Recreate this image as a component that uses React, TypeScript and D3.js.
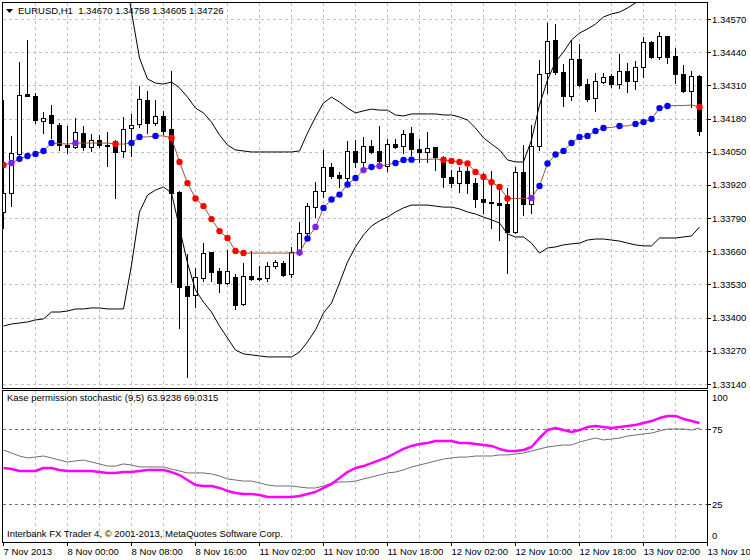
import React from "react";
import * as d3 from "d3";

// ---------- DATA (EURUSD H1) ----------
const opens = [
  1.33814, 1.33888, 1.34041, 1.34276, 1.34268, 1.3417, 1.34194, 1.34155, 1.34076, 1.34068,
  1.34123, 1.34068, 1.34096, 1.34076, 1.34092, 1.34053, 1.34143, 1.34159, 1.34253, 1.34163,
  1.3419, 1.34139, 1.33892, 1.33524, 1.33489, 1.33555, 1.33657, 1.33583, 1.33536, 1.33559,
  1.33453, 1.33563, 1.33555, 1.33555, 1.33602, 1.33614, 1.33571, 1.33653, 1.33732, 1.33833,
  1.33896, 1.3399, 1.33959, 1.33947, 1.34053, 1.3401, 1.34072, 1.34053, 1.33994, 1.3408,
  1.34072, 1.34123, 1.34061, 1.34049, 1.34068, 1.34029, 1.33951, 1.33927, 1.33974, 1.33927,
  1.33865, 1.33853, 1.33849, 1.33845, 1.33736, 1.33971, 1.33845, 1.34072, 1.34358, 1.34488,
  1.34362, 1.34268, 1.34413, 1.34315, 1.3426, 1.34323, 1.34347, 1.34315, 1.34366, 1.34327,
  1.34382, 1.3448, 1.34421, 1.34503, 1.34425, 1.34355, 1.34288, 1.34347,
];
const highs = [
  1.34253, 1.34112, 1.34402, 1.34488, 1.3428, 1.34206, 1.34233, 1.34163, 1.34151, 1.34182,
  1.34151, 1.34119, 1.34116, 1.34127, 1.34096, 1.34186, 1.34198, 1.34308, 1.34288, 1.34253,
  1.3421, 1.34366, 1.33896, 1.33649, 1.33594, 1.33692, 1.33657, 1.33594, 1.33665, 1.33571,
  1.33614, 1.33661, 1.33602, 1.33618, 1.33626, 1.33622, 1.33677, 1.33775, 1.33849, 1.33931,
  1.34057, 1.34006, 1.33971, 1.34092, 1.34096, 1.34108, 1.34096, 1.34151, 1.341, 1.341,
  1.34135, 1.34147, 1.341, 1.34127, 1.34068, 1.34033, 1.33978, 1.3399, 1.3399, 1.33947,
  1.33967, 1.33974, 1.33904, 1.33908, 1.3399, 1.34076, 1.34155, 1.34409, 1.34554, 1.3455,
  1.34394, 1.34488, 1.34472, 1.34335, 1.34358, 1.34358, 1.34355, 1.34433, 1.34398, 1.34406,
  1.345, 1.34484, 1.34519, 1.34503, 1.34456, 1.3439, 1.34366, 1.34351,
];
const lows = [
  1.33751, 1.33837, 1.34029, 1.34268, 1.34163, 1.34123, 1.34104, 1.34057, 1.34045, 1.34065,
  1.34057, 1.34053, 1.34068, 1.33994, 1.33869, 1.34029, 1.34033, 1.34147, 1.34123, 1.34155,
  1.34119, 1.3354, 1.33359, 1.33167, 1.33442, 1.33544, 1.33544, 1.335, 1.33532, 1.33434,
  1.3345, 1.33548, 1.33548, 1.33544, 1.33594, 1.33563, 1.33559, 1.33645, 1.33712, 1.33794,
  1.33873, 1.33947, 1.33912, 1.33912, 1.3399, 1.33986, 1.34045, 1.33986, 1.33974, 1.34065,
  1.34045, 1.34037, 1.3401, 1.3401, 1.33978, 1.33912, 1.33912, 1.33892, 1.33888, 1.33833,
  1.3381, 1.33751, 1.33704, 1.33575, 1.33732, 1.33802, 1.3381, 1.34057, 1.3428, 1.34355,
  1.34229, 1.34253, 1.34308, 1.34249, 1.3421, 1.34319, 1.34304, 1.343, 1.34284, 1.34296,
  1.34343, 1.34417, 1.34413, 1.34398, 1.34319, 1.34284, 1.34225, 1.34116,
];
const closes = [
  1.33888, 1.34045, 1.34272, 1.3427, 1.34174, 1.34182, 1.34163, 1.34076, 1.34067, 1.34127,
  1.34068, 1.34096, 1.34076, 1.34074, 1.34049, 1.34139, 1.34155, 1.34257, 1.34163, 1.3419,
  1.34131, 1.33888, 1.3352, 1.33485, 1.33559, 1.33653, 1.33579, 1.33536, 1.33583, 1.3345,
  1.33563, 1.33551, 1.33553, 1.33602, 1.33618, 1.33567, 1.33657, 1.33732, 1.33837, 1.33896,
  1.3399, 1.33955, 1.33947, 1.34053, 1.3401, 1.34072, 1.34049, 1.34014, 1.3408, 1.34068,
  1.34119, 1.34061, 1.34049, 1.34065, 1.34029, 1.33951, 1.33927, 1.33974, 1.33927, 1.33865,
  1.33855, 1.33851, 1.33841, 1.33736, 1.33971, 1.33845, 1.34072, 1.34355, 1.34484, 1.34362,
  1.34268, 1.34413, 1.34311, 1.34257, 1.34327, 1.34343, 1.34315, 1.34366, 1.34327, 1.34382,
  1.3448, 1.34421, 1.34503, 1.34421, 1.34355, 1.34288, 1.34347, 1.34131,
];
// channel (upper / middle / lower)
const upperBand = [
  1.35115, 1.35115, 1.35115, 1.35115, 1.35115, 1.35115, 1.35115, 1.35115, 1.35115, 1.35115,
  1.35115, 1.35115, 1.35115, 1.35115, 1.34997, 1.34801, 1.34597, 1.34417, 1.34335, 1.34319,
  1.34315, 1.34323, 1.343, 1.34264, 1.34221, 1.34202, 1.34166, 1.34116, 1.34076, 1.34057,
  1.34053, 1.34049, 1.34049, 1.34049, 1.34049, 1.34049, 1.34049, 1.34053, 1.34123, 1.34186,
  1.34241, 1.34264, 1.34245, 1.34221, 1.34202, 1.3421, 1.34217, 1.34213, 1.34213, 1.34194,
  1.3419, 1.34198, 1.34198, 1.34198, 1.34198, 1.34194, 1.34194, 1.34186, 1.34174, 1.34143,
  1.34104, 1.3408, 1.34057, 1.34018, 1.3401, 1.3401, 1.34096, 1.34233, 1.34331, 1.34402,
  1.34441, 1.34488, 1.34515, 1.34531, 1.3455, 1.34578, 1.3459, 1.34597, 1.34613, 1.34633,
  1.34656, 1.34676, 1.34691, 1.34707, 1.34719, 1.34731, 1.34742, 1.34754,
];
const midLine = [
  1.33998, 1.34006, 1.34022, 1.34033, 1.34041, 1.34053, 1.34084, 1.34082, 1.3408, 1.34084,
  1.34084, 1.34084, 1.34084, 1.34084, 1.3408, 1.3408, 1.34084, 1.34108, 1.34108, 1.34112,
  1.34112, 1.34104, 1.3401, 1.33927, 1.33867, 1.33837, 1.33786, 1.33739, 1.33712, 1.33661,
  1.33653, 1.33653, 1.33653, 1.33653, 1.33653, 1.33653, 1.33653, 1.33655, 1.3371, 1.33755,
  1.3383, 1.33863, 1.33882, 1.33922, 1.33947, 1.33978, 1.3399, 1.33994, 1.34, 1.34006,
  1.34018, 1.34019, 1.3402, 1.3402, 1.34022, 1.34018, 1.34014, 1.3401, 1.34004, 1.33971,
  1.33951, 1.33931, 1.33912, 1.33867, 1.33867, 1.33867, 1.33869, 1.33916, 1.34004, 1.34039,
  1.34053, 1.34084, 1.34108, 1.34112, 1.34131, 1.34143, 1.34145, 1.34151, 1.34151, 1.34159,
  1.34166, 1.34178, 1.34221, 1.34229, 1.34231, 1.34231, 1.34233, 1.34225,
];
// 1 = up signal, -1 = down signal, 2 = both, 0 = none
const midSignal = [
  -1, 2, 1, 1, 1, 1, 1, 0, 0, 2,
  0, 0, 0, 0, -1, 0, 1, 1, 0, 1,
  0, -1, -1, -1, -1, -1, -1, -1, -1, -1,
  -1, 0, 0, 0, 0, 0, 0, 2, 1, 2,
  1, 1, 1, 1, 1, 2, 1, 2, 0, 1,
  1, 1, 0, 0, 0, -1, -1, -1, -1, -1,
  -1, -1, -1, -1, 0, 0, 2, 1, 1, 1,
  1, 1, 1, 1, 1, 1, 0, 1, 0, 1,
  1, 1, 1, 1, 0, 0, 0, -1,
];
const lowerBand = [
  1.33367, 1.33375, 1.33379, 1.33383, 1.33391, 1.33395, 1.33422, 1.33422, 1.33426, 1.33434,
  1.33434, 1.33438, 1.33438, 1.33434, 1.33434, 1.33434, 1.33606, 1.33814, 1.3388, 1.339,
  1.33912, 1.33888, 1.33751, 1.33614, 1.33508, 1.33461, 1.33422, 1.33367, 1.3332, 1.33273,
  1.33258, 1.33254, 1.3325, 1.33246, 1.33246, 1.33246, 1.33246, 1.33265, 1.33305, 1.33352,
  1.33418, 1.33457, 1.33536, 1.33618, 1.33677, 1.33724, 1.33759, 1.33779, 1.33794, 1.33814,
  1.3383, 1.33841, 1.33841, 1.33841, 1.33837, 1.33833, 1.33833, 1.33826, 1.33814, 1.33806,
  1.33794, 1.33783, 1.33771, 1.33728, 1.33716, 1.33716, 1.33692, 1.33653, 1.33673, 1.33677,
  1.33685, 1.33689, 1.33692, 1.33704, 1.33708, 1.33708, 1.33704, 1.337, 1.33692, 1.33685,
  1.33681, 1.33681, 1.33712, 1.33712, 1.33712, 1.33716, 1.3372, 1.33755,
];
// Kase permission stochastic
const kpsMain = [
  49.0, 48.3, 47.0, 47.0, 47.0, 49.0, 49.0, 47.7, 47.0, 47.0,
  47.0, 47.0, 46.3, 45.7, 45.7, 46.3, 46.3, 47.0, 47.7, 47.7,
  47.7, 46.3, 44.3, 41.0, 37.7, 37.0, 37.0, 35.7, 33.7, 32.3,
  31.7, 31.7, 31.0, 29.7, 29.7, 29.7, 29.7, 30.3, 31.7, 33.0,
  35.7, 38.3, 42.3, 46.3, 49.0, 50.3, 52.3, 54.3, 56.3, 59.0,
  61.7, 63.7, 65.0, 65.7, 67.0, 67.0, 67.0, 65.7, 65.7, 65.0,
  64.3, 63.7, 61.7, 60.3, 60.3, 61.0, 63.0, 69.0, 74.3, 75.7,
  74.3, 73.0, 74.3, 76.3, 77.0, 76.3, 75.7, 76.3, 77.0, 77.7,
  79.0, 80.3, 82.3, 83.7, 83.7, 81.7, 80.3, 79.0,
];
const kpsSignal = [
  61.0, 59.0, 57.0, 55.7, 56.3, 57.0, 55.7, 54.3, 53.0, 53.7,
  54.3, 53.0, 51.7, 50.3, 50.3, 51.7, 51.0, 49.7, 49.7, 49.7,
  49.7, 48.3, 47.0, 45.7, 45.7, 45.7, 45.0, 43.7, 41.7, 41.0,
  40.3, 40.3, 39.0, 37.7, 37.0, 37.0, 37.0, 36.3, 35.7, 35.7,
  37.0, 39.0, 39.7, 39.7, 40.3, 41.7, 43.0, 44.3, 45.7, 46.3,
  47.7, 49.7, 51.0, 52.3, 53.7, 55.0, 55.7, 56.3, 56.3, 57.0,
  57.0, 57.0, 57.7, 57.7, 58.3, 59.0, 60.3, 61.7, 63.0, 63.7,
  64.3, 64.3, 66.3, 67.7, 69.0, 67.7, 68.3, 69.0, 70.3, 71.0,
  71.7, 72.3, 73.7, 75.0, 75.0, 75.0, 74.3, 75.7,
];
const priceTicks = [1.3457, 1.3444, 1.3431, 1.3418, 1.3405, 1.3392, 1.3379, 1.3366, 1.3353, 1.334, 1.3327, 1.3314];
const kpsTicks = [100, 75, 25, 0];
const kpsLevels = [75, 25];
const timeLabels = [
  "7 Nov 2013", "8 Nov 00:00", "8 Nov 08:00", "8 Nov 16:00", "11 Nov 02:00", "11 Nov 10:00",
  "11 Nov 18:00", "12 Nov 02:00", "12 Nov 10:00", "12 Nov 18:00", "13 Nov 02:00", "13 Nov 10",
];

const FONT = "'Liberation Sans', Arial, sans-serif";

export default function App() {
  const W = 750, H = 560;
  const L = 2, R = 707, MT = 2, MB = 388, ST = 390, SB = 542;
  const n = closes.length;
  const x = d3.scaleLinear().domain([0, n]).range([3, 3 + 8 * n]);
  const y = d3.scaleLinear().domain([1.3314, 1.3457]).range([384, 19]);
  const ys = d3.scaleLinear().domain([0, 100]).range([541.5, 391.5]);
  const idx = d3.range(n);
  const gridIdx = d3.range(4, n, 4);
  const labelIdx = d3.range(0, n + 1, 8);

  const priceLine = (arr: number[]) =>
    d3.line<number>().x((_, i) => x(i) + 0.5).y((v) => y(v))(arr) || "";
  const subLine = (arr: number[]) =>
    d3.line<number>().x((_, i) => x(i) + 0.5).y((v) => ys(v))(arr) || "";

  const dotColor: Record<string, string> = { "1": "#0000FF", "-1": "#FF0000", "2": "#7F1FE8" };

  return (
    <svg width={W} height={H} style={{ position: "absolute", left: 0, top: 0, background: "#fff" }}
      fontFamily={FONT} fontSize="9.5px">
      <defs>
        <clipPath id="mainClip"><rect x={L + 1} y={MT + 1} width={R - L - 1} height={MB - MT - 1} /></clipPath>
        <clipPath id="subClip"><rect x={L + 1} y={ST + 1} width={R - L - 1} height={SB - ST - 1} /></clipPath>
      </defs>
      <rect x={0} y={0} width={W} height={H} fill="#fff" />

      {/* main grid */}
      <g stroke="#C0C0C0" strokeDasharray="3,3" strokeWidth={1}>
        {priceTicks.map((p) => (
          <line key={"h" + p} x1={L + 1} x2={R} y1={Math.round(y(p)) + 0.5} y2={Math.round(y(p)) + 0.5} />
        ))}
        {gridIdx.map((i) => (
          <line key={"v" + i} x1={x(i) + 0.5} x2={x(i) + 0.5} y1={MT + 1} y2={MB} />
        ))}
        {gridIdx.map((i) => (
          <line key={"sv" + i} x1={x(i) + 0.5} x2={x(i) + 0.5} y1={ST + 1} y2={SB} />
        ))}
      </g>

      {/* candles */}
      <g clipPath="url(#mainClip)">
        {idx.map((i) => (
          <rect key={"w" + i} x={x(i)} width={1} y={Math.round(y(highs[i]))}
            height={Math.max(1, Math.round(y(lows[i])) - Math.round(y(highs[i])) + 1)} fill="#000" />
        ))}
        {idx.map((i) => {
          const top = Math.round(y(Math.max(opens[i], closes[i])));
          const bot = Math.round(y(Math.min(opens[i], closes[i])));
          const bull = closes[i] > opens[i];
          if (bull) {
            return (
              <rect key={"b" + i} x={x(i) - 1.5} y={top + 0.5} width={4} height={Math.max(1, bot - top)}
                fill="#fff" stroke="#000" strokeWidth={1} />
            );
          }
          return <rect key={"b" + i} x={x(i) - 2} y={top} width={5} height={Math.max(1, bot - top + 1)} fill="#000" />;
        })}

        {/* channel */}
        <path d={priceLine(upperBand)} fill="none" stroke="#000" strokeWidth={1} />
        <path d={priceLine(lowerBand)} fill="none" stroke="#000" strokeWidth={1} />
        <path d={priceLine(midLine)} fill="none" stroke="#A0522D" strokeWidth={1} />
        {idx.filter((i) => midSignal[i] !== 0).map((i) => (
          <circle key={"d" + i} cx={x(i) + 0.5} cy={y(midLine[i])} r={3.2} fill={dotColor[String(midSignal[i])]} />
        ))}
      </g>

      {/* sub window */}
      <g stroke="#707070" strokeDasharray="3,3" strokeWidth={1}>
        {kpsLevels.map((v) => (
          <line key={"lv" + v} x1={L + 1} x2={R + 3} y1={Math.round(ys(v)) + 0.5} y2={Math.round(ys(v)) + 0.5} />
        ))}
      </g>
      <g clipPath="url(#subClip)">
        <path d={subLine(kpsSignal)} fill="none" stroke="#6E6E6E" strokeWidth={1} />
        <path d={subLine(kpsMain)} fill="none" stroke="#FF00FF" strokeWidth={2.5} strokeLinejoin="round" />
      </g>

      {/* frames */}
      <rect x={L + 0.5} y={MT + 0.5} width={R - L} height={MB - MT} fill="none" stroke="#000" />
      <rect x={L + 0.5} y={ST + 0.5} width={R - L} height={SB - ST} fill="none" stroke="#000" />

      {/* price axis */}
      {priceTicks.map((p) => (
        <g key={"pt" + p}>
          <line x1={R} x2={R + 4} y1={Math.round(y(p)) + 0.5} y2={Math.round(y(p)) + 0.5} stroke="#000" />
          <text x={R + 5} y={y(p) + 3.5} fill="#000">{p.toFixed(5)}</text>
        </g>
      ))}
      {kpsTicks.map((v) => {
        const ty = v === 100 ? 401 : v === 0 ? 539 : ys(v) + 3.5;
        return (
          <g key={"kt" + v}>
            {v !== 100 && v !== 0 && (
              <line x1={R} x2={R + 4} y1={Math.round(ys(v)) + 0.5} y2={Math.round(ys(v)) + 0.5} stroke="#000" />
            )}
            <text x={R + 5} y={ty} fill="#000">{String(v)}</text>
          </g>
        );
      })}

      {/* time axis */}
      {labelIdx.map((i, j) => (
        <g key={"tl" + i}>
          <line x1={x(i) + 0.5} x2={x(i) + 0.5} y1={SB} y2={SB + 4} stroke="#000" />
          <text x={x(i) + 0.5} y={555} fill="#000">{timeLabels[j]}</text>
        </g>
      ))}

      {/* header texts */}
      <path d="M6,9 L13,9 L9.5,13 Z" fill="#000" />
      <text x={18} y={14} fill="#000" style={{ whiteSpace: "pre" }}>EURUSD,H1  1.34670 1.34758 1.34605 1.34726</text>
      <text x={7} y={401} fill="#000">Kase permission stochastic (9,5) 63.9238 69.0315</text>
      <text x={7} y={537} fill="#000">Interbank FX Trader 4, © 2001-2013, MetaQuotes Software Corp.</text>
    </svg>
  );
}
